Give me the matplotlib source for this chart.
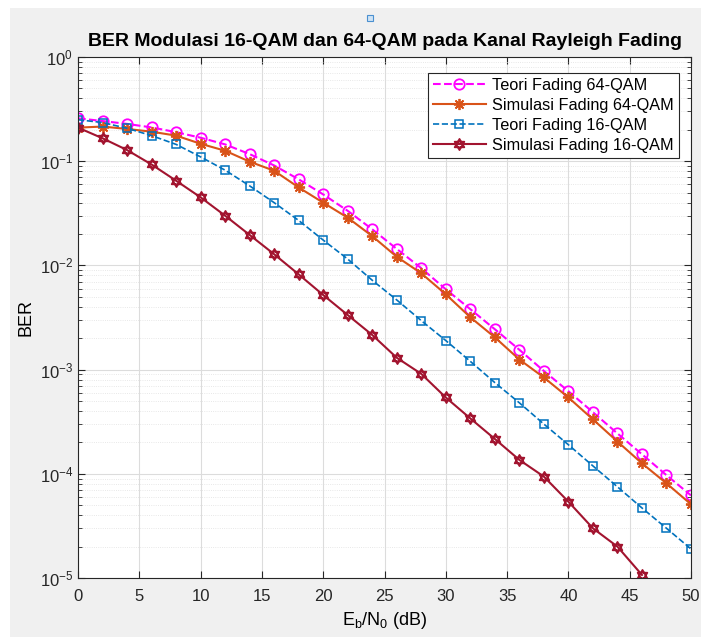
import matplotlib
matplotlib.use("Agg")
import matplotlib.pyplot as plt
from matplotlib.patches import Rectangle
from matplotlib.path import Path
import numpy as np

plt.rcParams["font.family"] = ["Liberation Sans", "DejaVu Sans"]
plt.rcParams["mathtext.fontset"] = "custom"
plt.rcParams["mathtext.rm"] = "Liberation Sans"
plt.rcParams["mathtext.it"] = "Liberation Sans:italic"

# data (Eb/N0 in dB)
ebno = np.arange(0, 51, 2)
teori_64 = [0.258, 0.243, 0.228, 0.211, 0.19, 0.168, 0.145, 0.117, 0.091, 0.067,
            0.048, 0.0334, 0.0222, 0.0144, 0.0094, 0.0059, 0.0038, 0.00244, 0.00155,
            0.00097, 0.00062, 0.00039, 0.000244, 0.000154, 9.7e-5, 6.2e-5]
sim_64 = [0.21, 0.215, 0.204, 0.192, 0.176, 0.147, 0.126, 0.099, 0.081, 0.056,
          0.040, 0.0287, 0.0191, 0.0121, 0.0084, 0.00528, 0.00318, 0.00204, 0.00125,
          0.00084, 0.00054, 0.000333, 0.000204, 0.000126, 8.1e-5, 5.1e-5]
teori_16 = [0.25, 0.235, 0.207, 0.176, 0.145, 0.110, 0.082, 0.058, 0.040, 0.027,
            0.0175, 0.0115, 0.0072, 0.00466, 0.00295, 0.0019, 0.00120, 0.00075,
            0.00048, 0.0003, 0.00019, 0.000119, 7.5e-5, 4.7e-5, 3.0e-5, 1.9e-5]
ebno_sim16 = np.arange(0, 47, 2)
sim_16 = [0.21, 0.166, 0.128, 0.093, 0.065, 0.045, 0.030, 0.0196, 0.0128, 0.0082,
          0.0052, 0.00334, 0.00215, 0.0013, 0.00091, 0.00054, 0.00034, 0.000216,
          0.000136, 9.4e-5, 5.4e-5, 3.0e-5, 2.0e-5, 1.07e-5]

# MATLAB-like hexagram marker: two overlapping triangles
a_up = np.deg2rad([90, 210, 330, 90])
a_dn = np.deg2rad([270, 30, 150, 270])
verts = list(zip(np.cos(a_up), np.sin(a_up))) + list(zip(np.cos(a_dn), np.sin(a_dn)))
codes = [Path.MOVETO, Path.LINETO, Path.LINETO, Path.CLOSEPOLY] * 2
hexagram = Path(verts, codes)

fig = plt.figure(figsize=(7.1, 6.37), dpi=100, facecolor="white")
fig.add_artist(Rectangle((10 / 710, 0), 691 / 710, 629 / 637, transform=fig.transFigure,
                         facecolor="#f0f0f0", edgecolor="none", zorder=-10))
fig.add_artist(Rectangle((367 / 710, 1 - 21 / 637), 6 / 710, 6 / 637, transform=fig.transFigure,
                         facecolor="#cfe3f5", edgecolor="#4a90d0", lw=0.8))

ax = fig.add_axes([78 / 710, 59 / 637, 613 / 710, 521 / 637])
ax.set_facecolor("white")

ax.semilogy(ebno, teori_64, "--o", color="#ff00ff", mfc="none", ms=7.5, mew=1.3, lw=1.5,
            label="Teori Fading 64-QAM")
ax.semilogy(ebno, sim_64, "-", marker=(8, 2, 0), color="#d95319", ms=8, mew=1.3, lw=1.5,
            label="Simulasi Fading 64-QAM")
ax.semilogy(ebno, teori_16, "--s", color="#0072bd", mfc="none", ms=5.5, mew=1.1, lw=1.2,
            label="Teori Fading 16-QAM")
ax.semilogy(ebno_sim16, sim_16, "-", marker=hexagram, color="#a2142f", mfc="none",
            ms=8, mew=1.3, lw=1.5, label="Simulasi Fading 16-QAM")

ax.set_xlim(0, 50)
ax.set_ylim(1e-5, 1)
ax.set_xticks(np.arange(0, 51, 5))
ax.grid(True, which="major", color="#dcdcdc", lw=0.8)
ax.grid(True, which="minor", axis="y", color="#e0e0e0", lw=0.6, ls=":")
ax.tick_params(which="both", direction="in", top=True, right=True, labelsize=12,
               colors="#262626")
ax.tick_params(which="major", length=5)
ax.tick_params(axis="x", which="major", pad=8)
ax.tick_params(which="minor", length=3)
for s in ax.spines.values():
    s.set_color("#262626")
    s.set_linewidth(0.8)

ax.set_title("BER Modulasi 16-QAM dan 64-QAM pada Kanal Rayleigh Fading",
             fontsize=14, fontweight="bold", pad=8)
ax.set_xlabel(r"E$_\mathrm{b}$/N$_\mathrm{0}$ (dB)", fontsize=13, labelpad=4)
ax.set_ylabel("BER", fontsize=13)

leg = ax.legend(loc="upper right", bbox_to_anchor=(0.985, 0.975), fontsize=11.7,
                fancybox=False, framealpha=1, edgecolor="#262626", handlelength=3.3,
                handletextpad=0.35, borderpad=0.3, labelspacing=0.3, borderaxespad=0.2)
leg.get_frame().set_linewidth(0.8)

fig.savefig("out.png", dpi=100, facecolor=fig.get_facecolor())
